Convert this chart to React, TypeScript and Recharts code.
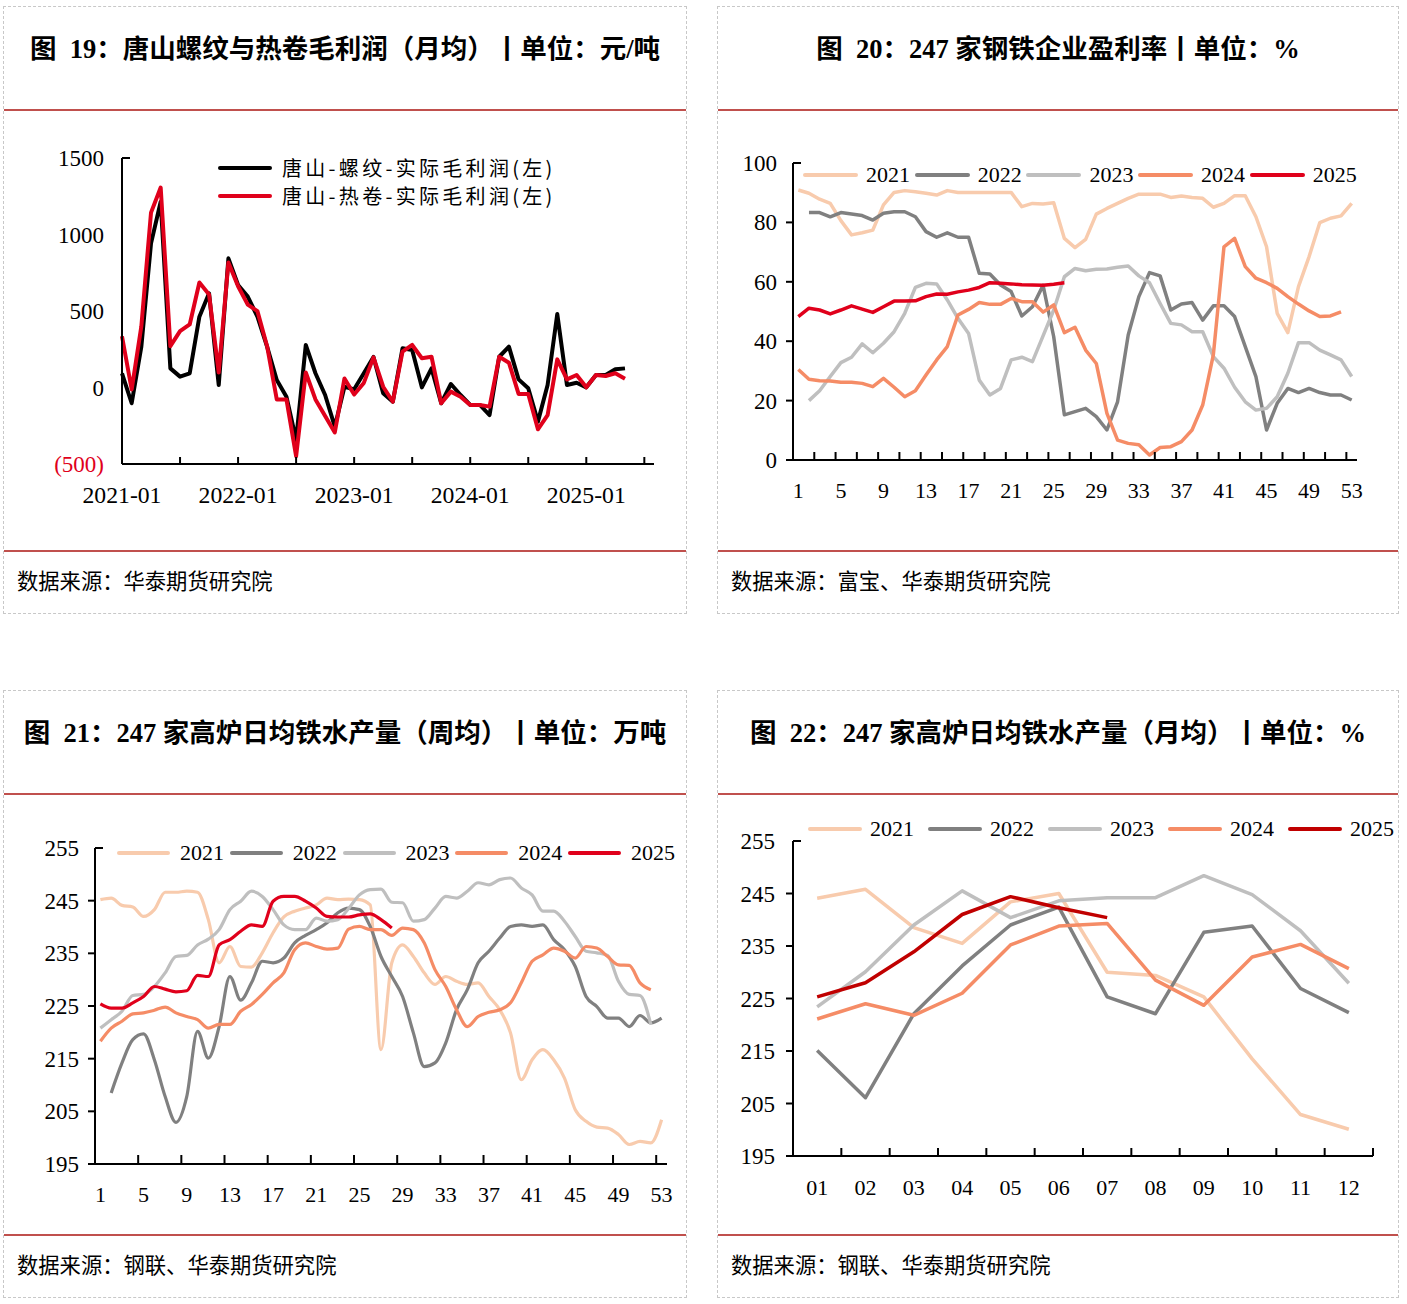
import React from 'react';
import { LineChart, Line, XAxis, YAxis, Legend } from 'recharts';

const NUM_FONT = "'Liberation Serif', 'Times New Roman', serif";
const CJK_FONT = "'Noto Sans CJK SC', 'Noto Sans', sans-serif";
const TITLE_FONT = "'Liberation Serif', 'Noto Sans CJK SC', serif";
const RULE = '#C0504D';
const AXIS = '#000';

const C_2021 = '#F8CBAD';
const C_2022 = '#808080';
const C_2023 = '#BFBFBF';
const C_2024 = '#F58C66';
const C_2025 = '#E0001B';
const C_2025_DARK = '#C00000';

// ---- 图19 唐山螺纹/热卷毛利润（月均） ----
const P19_LABELS = ['2021-01', '2022-01', '2023-01', '2024-01', '2025-01'];
const P19_LABEL_AT = [0, 12, 24, 36, 48];
const P19_MARKS = [6, 12, 18, 24, 30, 36, 42, 48, 54];
const P19_TICKS = [0, 6, 12, 18, 24, 30, 36, 42, 48, 54];
const P19_Y_TICKS = [-500, 0, 500, 1000, 1500];
const P19_REBAR = [
  93, -103, 267, 942, 1214, 125, 71, 93, 463, 616, 16, 844, 670, 594, 463, 267, 49, -60, -343, 278,
  93, -49, -256, 5, -12, 93, 200, -38, -93, 256, 245, 1, 125, -103, 23, -49, -114, -114, -180, 201,
  267, 53, -5, -223, 16, 480, 16, 31, 1, 82, 82, 119, 125,
];
const P19_HOTCOIL = [
  335, -13, 400, 1143, 1307, 270, 368, 412, 686, 608, 98, 817, 662, 542, 499, 270, -78, -78, -449, 98,
  -78, -187, -294, 59, -46, 30, 197, 5, -93, 234, 278, 191, 201, -103, -27, -60, -114, -114, -125, 201,
  162, -42, -42, -273, -180, 184, 53, 82, 1, 82, 75, 93, 58,
];

// ---- 图20 247家钢铁企业盈利率（周） ----
const WEEK_LABELS = ['1', '5', '9', '13', '17', '21', '25', '29', '33', '37', '41', '45', '49', '53'];
const WEEK_LABEL_AT = [1, 5, 9, 13, 17, 21, 25, 29, 33, 37, 41, 45, 49, 53];
const P20_MARKS = [
  2.5, 4.5, 6.5, 8.5, 10.5, 12.5, 14.5, 16.5, 18.5, 20.5, 22.5, 24.5, 26.5,
  28.5, 30.5, 32.5, 34.5, 36.5, 38.5, 40.5, 42.5, 44.5, 46.5, 48.5, 50.5, 52.5,
];
const P20_Y_TICKS = [0, 20, 40, 60, 80, 100];
const P20_2021 = [
  90.9, 89.8, 87.8, 86.4, 80.6, 75.8, 76.5, 77.4, 85.9, 90.1, 90.7, 90.3, 89.8, 89.2, 90.7, 90.1, 90.1, 90.1,
  90.1, 90.1, 90.1, 85.3, 86.4, 86.2, 86.6, 74.6, 71.5, 74.3, 82.8, 84.7, 86.4, 88.1, 89.5, 89.5, 89.5, 88.4,
  88.9, 88.4, 88.1, 85.1, 86.4, 89, 89, 81.9, 71.8, 49.4, 42.9, 58.4, 68.5, 79.9, 81.4, 82.2, 86.4,
];
const P20_2022 = [
  null, 83.3, 83.3, 81.9, 83.3, 82.8, 82.3, 80.8, 83.1, 83.6, 83.6, 81.9, 76.9, 75, 76.5, 75, 75, 62.9,
  62.6, 58.9, 56.7, 48.5, 51.6, 58.8, 41.5, 15.2, 16.3, 17.4, 14.6, 10.1, 19.6, 42.1, 55, 63.1, 62, 50.5,
  52.5, 53, 47.1, 51.9, 51.9, 48.3, 38.2, 28.1, 10.1, 19.1, 24.1, 22.7, 24.1, 22.7, 21.9, 21.9, 20.2,
];
const P20_2023 = [
  null, 20, 23.3, 28.1, 32.8, 34.6, 39.1, 36.1, 39.3, 43.2, 49.4, 58.1, 59.5, 59.3, 53.9, 47.7, 42.6, 26.9,
  21.9, 24.1, 33.7, 34.6, 33.1, 41.8, 50.5, 61.7, 64.5, 63.7, 64.2, 64.3, 64.9, 65.3, 62, 59.7, 52.7, 46,
  45.5, 43.2, 43.2, 34.8, 30.9, 24.5, 19.6, 16.8, 17.4, 21.3, 29.2, 39.5, 39.5, 37, 35.4, 33.7, 28.1,
];
const P20_2024 = [
  30.5, 27.2, 26.7, 26.6, 26.2, 26.2, 25.8, 24.7, 27.5, 24.5, 21.3, 23.3, 28.6, 33.7, 38.2, 48.8, 50.7, 53,
  52.4, 52.4, 54.4, 53.3, 53.3, 49.8, 52.2, 42.9, 44.7, 37, 32.5, 15.7, 6.7, 5.6, 5.1, 1.7, 4.2, 4.5,
  6.2, 10.1, 18.5, 35.4, 71.8, 74.6, 65.1, 61.2, 59.7, 57.8, 55, 52.5, 50.2, 48.3, 48.5, 49.9, null,
];
const P20_2025 = [
  48.3, 51.1, 50.5, 49.2, 50.5, 51.9, 50.8, 49.7, 51.6, 53.5, 53.5, 53.6, 55, 55.9, 55.8, 56.6, 57.2, 58.1,
  59.7, 59.5, 59.3, 59, 58.9, 58.8, 59.2, 59.7,
];

// ---- 图21 247家高炉日均铁水产量（周均） ----
const P21_MARKS = [4.5, 8.5, 12.5, 16.5, 20.5, 24.5, 28.5, 32.5, 36.5, 40.5, 44.5, 48.5, 52.5];
const P21_Y_TICKS = [195, 205, 215, 225, 235, 245, 255];
const P21_2021 = [
  245.2, 245.5, 244.1, 243.8, 242, 243.3, 246.6, 246.6, 246.8, 246.6, 241.4, 233.2, 236.3, 232.5, 232.4,
  235.1, 238.9, 241.9, 243, 243.6, 244.2, 245.5, 245.2, 245.3, 245.2, 244.2, 216.7, 233.2, 236.6, 234.4,
  231.3, 229.1, 230.6, 229.7, 229.1, 229.4, 226.8, 224.3, 219.9, 211, 214.8, 216.7, 214.8, 211.3, 205.3,
  203.1, 202, 201.8, 200.6, 198.7, 199.3, 199, 203.4,
];
const P21_2022 = [
  null, 208.5, 214.2, 218.6, 219.7, 214.8, 207.8, 202.9, 207.8, 220.2, 215.1, 221.1, 230.6, 226.1, 229.4,
  233.5, 233.2, 234.1, 237, 238.4, 239.5, 240.8, 242.7, 243.6, 243.3, 240.1, 234.4, 230.6, 226.8, 219.9,
  213.5, 214.2, 218, 224.3, 228.1, 233.2, 235.4, 237.9, 240.1, 240.4, 240.1, 240.4, 237.6, 235.7, 232.5,
  226.8, 224.9, 222.7, 222.7, 221.1, 223.2, 221.8, 222.7,
];
const P21_2023 = [
  220.8, 222.4, 224, 227, 227.2, 228.7, 231.3, 234.4, 234.6, 236.6, 237.7, 239.5, 243.3, 244.9, 246.8,
  245.8, 243.3, 240.4, 239.5, 239.5, 241.7, 241.1, 241.4, 243.5, 246.1, 247.1, 247.2, 244.7, 244.6, 241.1,
  241.4, 243.6, 245.8, 245.5, 246.8, 248.4, 248, 249, 249.3, 247.4, 246.1, 243, 243, 241.1, 238.2,
  235.4, 235.1, 234.6, 229.7, 227.2, 227, 221.5, null,
];
const P21_2024 = [
  218.3, 220.8, 222.1, 223.5, 223.7, 224.2, 224.8, 223.7, 223, 222.4, 220.8, 221.5, 221.5, 224, 225.3,
  227.2, 229.4, 231.3, 235.7, 237, 236.3, 235.8, 236, 239.6, 240.1, 239.5, 239.5, 238.4, 239.8, 239.5,
  237, 231.9, 228.7, 224.3, 221.1, 223, 223.8, 224.3, 225.6, 229.4, 233.5, 234.7, 236, 235.4, 234.1,
  236.3, 236, 234.4, 232.8, 232.7, 229.4, 228.1, null,
];
const P21_2025 = [
  225.4, 224.6, 224.6, 225.6, 226.8, 228.7, 228.2, 227.7, 227.9, 230.8, 230.6, 236.6, 237.6, 239.2, 240.4,
  240.1, 244.9, 245.8, 245.8, 244.9, 243.6, 242, 241.9, 241.9, 242.3, 242.5, 241.4, 239.8,
];

// ---- 图22 247家高炉日均铁水产量（月均） ----
const MONTH_LABELS = ['01', '02', '03', '04', '05', '06', '07', '08', '09', '10', '11', '12'];
const MONTH_AT = [1, 2, 3, 4, 5, 6, 7, 8, 9, 10, 11, 12];
const P22_MARKS = [1.5, 2.5, 3.5, 4.5, 5.5, 6.5, 7.5, 8.5, 9.5, 10.5, 11.5, 12.5];
const P22_2021 = [244.1, 245.8, 238.5, 235.5, 243.4, 245, 230, 229.4, 225.3, 213.5, 202.9, 200.1];
const P22_2022 = [215.1, 206.1, 222.1, 231.2, 239, 242.4, 225.3, 222.1, 237.6, 238.8, 226.9, 222.3];
const P22_2023 = [223.4, 230.1, 239, 245.5, 240.4, 243.6, 244.2, 244.2, 248.4, 244.8, 237.9, 227.9];
const P22_2024 = [221.1, 224, 221.8, 226, 235.2, 238.8, 239.3, 228.5, 223.7, 232.9, 235.3, 230.7];
const P22_2025 = [225.3, 228, 233.9, 241, 244.4, 242.3, 240.4];

const WEEKS = P20_2021.map((_, i) => i + 1);

const p19Rows = P19_REBAR.map((v, i) => ({ m: i, rebar: v, hotcoil: P19_HOTCOIL[i] }));
const p20Rows = WEEKS.map((w, i) => ({
  w,
  y2021: P20_2021[i] ?? null,
  y2022: P20_2022[i] ?? null,
  y2023: P20_2023[i] ?? null,
  y2024: P20_2024[i] ?? null,
  y2025: P20_2025[i] ?? null,
}));
const p21Rows = WEEKS.map((w, i) => ({
  w,
  y2021: P21_2021[i] ?? null,
  y2022: P21_2022[i] ?? null,
  y2023: P21_2023[i] ?? null,
  y2024: P21_2024[i] ?? null,
  y2025: P21_2025[i] ?? null,
}));
const p22Rows = MONTH_AT.map((m, i) => ({
  m,
  y2021: P22_2021[i] ?? null,
  y2022: P22_2022[i] ?? null,
  y2023: P22_2023[i] ?? null,
  y2024: P22_2024[i] ?? null,
  y2025: P22_2025[i] ?? null,
}));

type Spec = { key: string; name: string; color: string };

const YEAR_SERIES: Spec[] = [
  { key: 'y2021', name: '2021', color: C_2021 },
  { key: 'y2022', name: '2022', color: C_2022 },
  { key: 'y2023', name: '2023', color: C_2023 },
  { key: 'y2024', name: '2024', color: C_2024 },
  { key: 'y2025', name: '2025', color: C_2025 },
];
const YEAR_SERIES_22: Spec[] = YEAR_SERIES.map((s) => (s.key === 'y2025' ? { ...s, color: C_2025_DARK } : s));
const P19_SERIES: Spec[] = [
  { key: 'rebar', name: '唐山-螺纹-实际毛利润(左)', color: '#000000' },
  { key: 'hotcoil', name: '唐山-热卷-实际毛利润(左)', color: C_2025 },
];

function xTick(labels: string[], labelAt: number[], marks: number[], labelDy: number, markLen = 8, fontSize = 22) {
  return (props: any) => {
    const { x, y, payload } = props;
    const v = payload.value;
    const li = labelAt.indexOf(v);
    return (
      <g>
        {marks.includes(v) ? <line x1={x} x2={x} y1={y} y2={y - markLen} stroke={AXIS} strokeWidth={2} /> : null}
        {li >= 0 ? (
          <text x={x} y={y + labelDy} dy="0.35em" textAnchor="middle" fontSize={fontSize} fontFamily={NUM_FONT} fill="#000">
            {labels[li]}
          </text>
        ) : null}
      </g>
    );
  };
}

function yTick(
  top: number,
  stubs: boolean,
  gap: number,
  fontSize = 22,
  fmt?: (v: number) => { text: string; color: string },
) {
  return (props: any) => {
    const { x, y, payload } = props;
    const v = payload.value;
    const f = fmt ? fmt(v) : { text: String(v), color: '#000' };
    return (
      <g>
        {v === top ? (
          <line x1={x} x2={x + 8} y1={y} y2={y} stroke={AXIS} strokeWidth={2} />
        ) : stubs ? (
          <line x1={x - 7} x2={x} y1={y} y2={y} stroke={AXIS} strokeWidth={2} />
        ) : null}
        <text x={x - gap} y={y} dy="0.35em" textAnchor="end" fontSize={fontSize} fontFamily={NUM_FONT} fill={f.color}>
          {f.text}
        </text>
      </g>
    );
  };
}

function LegendRow({ items, pitch, lineW, gap }: { items: Spec[]; pitch: number; lineW: number; gap: number }) {
  return (
    <div style={{ display: 'flex', alignItems: 'center', height: 26 }}>
      {items.map((it) => (
        <div key={it.key} style={{ display: 'flex', alignItems: 'center', width: pitch, flex: 'none' }}>
          <span style={{ width: lineW, height: 4, borderRadius: 2, background: it.color, flex: 'none' }} />
          <span style={{ marginLeft: gap, fontSize: 22, fontFamily: NUM_FONT, lineHeight: '26px', color: '#000' }}>
            {it.name}
          </span>
        </div>
      ))}
    </div>
  );
}

function LegendColumn({ items }: { items: Spec[] }) {
  return (
    <div>
      {items.map((it) => (
        <div key={it.key} style={{ display: 'flex', alignItems: 'center', height: 28 }}>
          <span style={{ width: 54, height: 4, borderRadius: 2, background: it.color, flex: 'none' }} />
          <span
            style={{
              marginLeft: 10,
              fontSize: 20,
              fontFamily: CJK_FONT,
              letterSpacing: 3.3,
              lineHeight: '28px',
              whiteSpace: 'nowrap',
              color: '#000',
            }}
          >
            {it.name}
          </span>
        </div>
      ))}
    </div>
  );
}

function Panel({ left, top, width, title, source }: { left: number; top: number; width: number; title: string; source: string }) {
  return (
    <div
      style={{
        position: 'absolute',
        left,
        top,
        width,
        height: 608,
        border: '1px dashed #c8c8c8',
        boxSizing: 'border-box',
      }}
    >
      <div
        style={{
          position: 'absolute',
          left: 0,
          right: 0,
          top: 27,
          textAlign: 'center',
          fontSize: 26.5,
          fontWeight: 700,
          fontFamily: TITLE_FONT,
          lineHeight: '30px',
          whiteSpace: 'nowrap',
          color: '#000',
        }}
      >
        {title}
      </div>
      <div style={{ position: 'absolute', left: 0, right: 0, top: 102, height: 2, background: RULE }} />
      <div style={{ position: 'absolute', left: 0, right: 0, top: 543, height: 2, background: RULE }} />
      <div
        style={{
          position: 'absolute',
          left: 13,
          top: 559,
          fontSize: 21.3,
          fontFamily: CJK_FONT,
          lineHeight: '28px',
          whiteSpace: 'nowrap',
          color: '#000',
        }}
      >
        {source}
      </div>
    </div>
  );
}

const axisLine = { stroke: AXIS, strokeWidth: 2 };

function Chart19() {
  return (
    <div style={{ position: 'absolute', left: 20, top: 130 }}>
      <LineChart width={660} height={400} data={p19Rows} margin={{ top: 28, right: 26, bottom: 26, left: 0 }}>
        <XAxis
          type="number"
          dataKey="m"
          domain={[0, 55]}
          ticks={P19_TICKS}
          interval={0}
          height={40}
          tickSize={0}
          tickMargin={0}
          tickLine={false}
          axisLine={axisLine}
          tick={xTick(P19_LABELS, P19_LABEL_AT, P19_MARKS, 31, 7, 23.7)}
        />
        <YAxis
          type="number"
          domain={[-500, 1500]}
          ticks={P19_Y_TICKS}
          interval={0}
          width={102}
          tickSize={0}
          tickMargin={0}
          tickLine={false}
          axisLine={axisLine}
          tick={yTick(1500, false, 18, 23, (v) => (v < 0 ? { text: `(${-v})`, color: C_2025 } : { text: String(v), color: '#000' }))}
        />
        <Legend
          layout="horizontal"
          verticalAlign="middle"
          align="center"
          wrapperStyle={{ top: 24, left: 198, width: 380, height: 56 }}
          content={() => <LegendColumn items={P19_SERIES} />}
        />
        {P19_SERIES.map((s) => (
          <Line
            key={s.key}
            type="linear"
            dataKey={s.key}
            name={s.name}
            stroke={s.color}
            strokeWidth={4}
            strokeLinejoin="round"
            dot={false}
            activeDot={false}
            isAnimationActive={false}
          />
        ))}
      </LineChart>
    </div>
  );
}

function Chart20() {
  return (
    <div style={{ position: 'absolute', left: 730, top: 140 }}>
      <LineChart width={650} height={390} data={p20Rows} margin={{ top: 23, right: 23, bottom: 30, left: 0 }}>
        <XAxis
          type="number"
          dataKey="w"
          domain={[0.5, 53.5]}
          ticks={[...WEEK_LABEL_AT, ...P20_MARKS].sort((a, b) => a - b)}
          interval={0}
          height={40}
          tickSize={0}
          tickMargin={0}
          tickLine={false}
          axisLine={axisLine}
          tick={xTick(WEEK_LABELS, WEEK_LABEL_AT, P20_MARKS, 30)}
        />
        <YAxis
          type="number"
          domain={[0, 100]}
          ticks={P20_Y_TICKS}
          interval={0}
          width={63}
          tickSize={0}
          tickMargin={0}
          tickLine={false}
          axisLine={axisLine}
          tick={yTick(100, true, 16, 23)}
        />
        <Legend
          layout="horizontal"
          verticalAlign="middle"
          align="center"
          wrapperStyle={{ top: 22, left: 73, width: 570, height: 26 }}
          content={() => <LegendRow items={YEAR_SERIES} pitch={111.7} lineW={55} gap={8} />}
        />
        {YEAR_SERIES.map((s) => (
          <Line
            key={s.key}
            type="linear"
            dataKey={s.key}
            name={s.name}
            stroke={s.color}
            strokeWidth={3.5}
            strokeLinejoin="round"
            dot={false}
            activeDot={false}
            isAnimationActive={false}
          />
        ))}
      </LineChart>
    </div>
  );
}

function Chart21() {
  return (
    <div style={{ position: 'absolute', left: 20, top: 820 }}>
      <LineChart width={660} height={400} data={p21Rows} margin={{ top: 28, right: 13, bottom: 20, left: 0 }}>
        <XAxis
          type="number"
          dataKey="w"
          domain={[0.5, 53.5]}
          ticks={[...WEEK_LABEL_AT, ...P21_MARKS].sort((a, b) => a - b)}
          interval={0}
          height={36}
          tickSize={0}
          tickMargin={0}
          tickLine={false}
          axisLine={axisLine}
          tick={xTick(WEEK_LABELS, WEEK_LABEL_AT, P21_MARKS, 30, 9)}
        />
        <YAxis
          type="number"
          domain={[195, 255]}
          ticks={P21_Y_TICKS}
          interval={0}
          width={75}
          tickSize={0}
          tickMargin={0}
          tickLine={false}
          axisLine={axisLine}
          tick={yTick(255, true, 16, 23)}
        />
        <Legend
          layout="horizontal"
          verticalAlign="middle"
          align="center"
          wrapperStyle={{ top: 20, left: 97, width: 570, height: 26 }}
          content={() => <LegendRow items={YEAR_SERIES} pitch={112.75} lineW={53} gap={10} />}
        />
        {YEAR_SERIES.map((s) => (
          <Line
            key={s.key}
            type="monotone"
            dataKey={s.key}
            name={s.name}
            stroke={s.color}
            strokeWidth={3.2}
            dot={false}
            activeDot={false}
            isAnimationActive={false}
          />
        ))}
      </LineChart>
    </div>
  );
}

function Chart22() {
  return (
    <div style={{ position: 'absolute', left: 730, top: 810 }}>
      <LineChart width={660} height={400} data={p22Rows} margin={{ top: 31, right: 17, bottom: 20, left: 0 }}>
        <XAxis
          type="number"
          dataKey="m"
          domain={[0.5, 12.5]}
          ticks={[...MONTH_AT, ...P22_MARKS].sort((a, b) => a - b)}
          interval={0}
          height={34}
          tickSize={0}
          tickMargin={0}
          tickLine={false}
          axisLine={axisLine}
          tick={xTick(MONTH_LABELS, MONTH_AT, P22_MARKS, 31)}
        />
        <YAxis
          type="number"
          domain={[195, 255]}
          ticks={P21_Y_TICKS}
          interval={0}
          width={63}
          tickSize={0}
          tickMargin={0}
          tickLine={false}
          axisLine={axisLine}
          tick={yTick(255, true, 18, 23)}
        />
        <Legend
          layout="horizontal"
          verticalAlign="middle"
          align="center"
          wrapperStyle={{ top: 6, left: 78, width: 620, height: 26 }}
          content={() => <LegendRow items={YEAR_SERIES_22} pitch={120} lineW={54} gap={8} />}
        />
        {YEAR_SERIES_22.map((s) => (
          <Line
            key={s.key}
            type="linear"
            dataKey={s.key}
            name={s.name}
            stroke={s.color}
            strokeWidth={3.5}
            strokeLinejoin="round"
            dot={false}
            activeDot={false}
            isAnimationActive={false}
          />
        ))}
      </LineChart>
    </div>
  );
}

export default function App() {
  return (
    <div style={{ position: 'absolute', left: 0, top: 0, width: 1407, height: 1304, background: '#fff', overflow: 'hidden' }}>
      <Panel left={3} top={6} width={684} title={'图\u200219：唐山螺纹与热卷毛利润（月均）丨单位：元/吨'} source="数据来源：华泰期货研究院" />
      <Panel left={717} top={6} width={682} title={'图\u200220：247 家钢铁企业盈利率丨单位：%'} source="数据来源：富宝、华泰期货研究院" />
      <Panel left={3} top={690} width={684} title={'图\u200221：247 家高炉日均铁水产量（周均）丨单位：万吨'} source="数据来源：钢联、华泰期货研究院" />
      <Panel left={717} top={690} width={682} title={'图\u200222：247 家高炉日均铁水产量（月均）丨单位：%'} source="数据来源：钢联、华泰期货研究院" />
      <Chart19 />
      <Chart20 />
      <Chart21 />
      <Chart22 />
    </div>
  );
}
